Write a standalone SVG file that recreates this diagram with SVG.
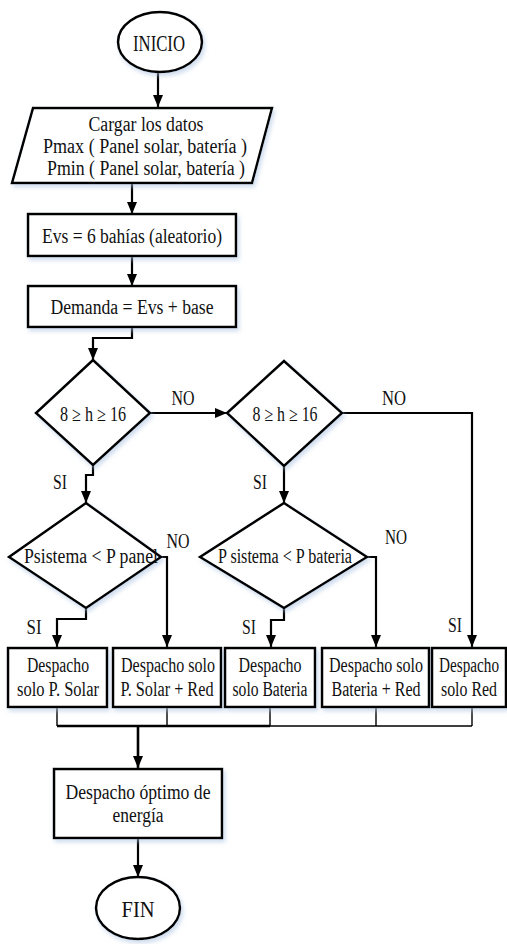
<svg xmlns="http://www.w3.org/2000/svg" width="507" height="944" viewBox="0 0 507 944">
<style>
.shape{fill:#fff;stroke:#000;stroke-width:2.5;filter:url(#sh)}
.t{font-family:"Liberation Serif","Times New Roman",serif;font-size:20px;fill:#111;text-anchor:middle}
.big{font-size:23px}
.c{fill:none;stroke:#000;stroke-width:2.2}
.thin{fill:none;stroke:#000;stroke-width:1.4}
</style>
<defs>
<filter id="sh" x="-20%" y="-20%" width="140%" height="140%">
<feDropShadow dx="2" dy="3" stdDeviation="2" flood-color="#a9c0e0" flood-opacity="0.55"/>
</filter>
<marker id="ah" viewBox="0 0 12 10" refX="12" refY="5" markerWidth="12" markerHeight="10" markerUnits="userSpaceOnUse" orient="auto">
<path d="M0,0 L12,5 L0,10 z" fill="#000"/>
</marker>
</defs>
<rect width="507" height="944" fill="#fff"/>

<g id="connectors">
<path class="c" d="M158,72 V107" marker-end="url(#ah)"/>
<path class="c" d="M132,183 V214" marker-end="url(#ah)"/>
<path class="c" d="M132,256 V286" marker-end="url(#ah)"/>
<path class="c" d="M132,327 V338 H93 V360" marker-end="url(#ah)"/>
<path class="c" d="M150,413 H227" marker-end="url(#ah)"/>
<path class="c" d="M342,413 H472 V647" marker-end="url(#ah)"/>
<path class="c" d="M93,465 V475 H86 V503" marker-end="url(#ah)"/>
<path class="c" d="M284,466 V503" marker-end="url(#ah)"/>
<path class="c" d="M160,557 H167 V647" marker-end="url(#ah)"/>
<path class="c" d="M86,608 V619 H57 V647" marker-end="url(#ah)"/>
<path class="c" d="M367,557 H376 V647" marker-end="url(#ah)"/>
<path class="c" d="M284,608 V620 H271 V647" marker-end="url(#ah)"/>
<path class="thin" d="M57,707 V726 M167,707 V726 M270,707 V726 M376,707 V726 M472,707 V726 M270,726 H472"/>
<path class="c" d="M57,726 H270" style="stroke-width:2.6"/>
<path class="c" d="M138,726 V768" style="stroke-width:2.6" marker-end="url(#ah)"/>
<path class="c" d="M138,838 V877" marker-end="url(#ah)"/>
<text class="t" x="183" y="405" textLength="23" lengthAdjust="spacingAndGlyphs">NO</text>
<text class="t" x="394" y="405" textLength="24" lengthAdjust="spacingAndGlyphs">NO</text>
<text class="t" x="60" y="489" textLength="14" lengthAdjust="spacingAndGlyphs">SI</text>
<text class="t" x="260" y="489" textLength="14" lengthAdjust="spacingAndGlyphs">SI</text>
<text class="t" x="178" y="548" textLength="23" lengthAdjust="spacingAndGlyphs">NO</text>
<text class="t" x="396" y="544" textLength="22" lengthAdjust="spacingAndGlyphs">NO</text>
<text class="t" x="34" y="634" textLength="15" lengthAdjust="spacingAndGlyphs">SI</text>
<text class="t" x="249" y="634" textLength="14" lengthAdjust="spacingAndGlyphs">SI</text>
<text class="t" x="455" y="632" textLength="14" lengthAdjust="spacingAndGlyphs">SI</text>
</g>

<g id="inicio">
<ellipse class="shape" cx="160" cy="42" rx="42" ry="30"/>
<text class="t big" x="159" y="51" textLength="52" lengthAdjust="spacingAndGlyphs">INICIO</text>
</g>

<g id="cargar">
<polygon class="shape" points="33,108 272,108 252,183 12,183"/>
<text class="t" x="146" y="131" textLength="115" lengthAdjust="spacingAndGlyphs">Cargar los datos</text>
<text class="t" x="145" y="153" textLength="204" lengthAdjust="spacingAndGlyphs">Pmax  ( Panel solar, batería )</text>
<text class="t" x="146" y="175" textLength="198" lengthAdjust="spacingAndGlyphs">Pmin  ( Panel solar, batería )</text>
</g>

<g id="evs">
<rect class="shape" x="28" y="214" width="208" height="42"/>
<text class="t" x="132" y="243" textLength="180" lengthAdjust="spacingAndGlyphs">Evs = 6 bahías (aleatorio)</text>
</g>

<g id="demanda">
<rect class="shape" x="28" y="286" width="208" height="41"/>
<text class="t" x="132" y="314" textLength="163" lengthAdjust="spacingAndGlyphs">Demanda = Evs + base</text>
</g>

<g id="dec1">
<polygon class="shape" points="93,360 150,413 93,465 36,413"/>
<text class="t" x="93" y="421" textLength="66" lengthAdjust="spacingAndGlyphs">8 ≥ h ≥ 16</text>
</g>

<g id="dec2">
<polygon class="shape" points="284,361 342,413 284,466 227,413"/>
<text class="t" x="285" y="421" textLength="65" lengthAdjust="spacingAndGlyphs">8 ≥ h ≥ 16</text>
</g>

<g id="dec3">
<polygon class="shape" points="86,503 161,557 86,608 9,557"/>
<text class="t" x="91" y="563" textLength="134" lengthAdjust="spacingAndGlyphs">Psistema &lt; P panel</text>
</g>

<g id="dec4">
<polygon class="shape" points="284,503 367,557 284,608 200,557"/>
<text class="t" x="285" y="563" textLength="134" lengthAdjust="spacingAndGlyphs">P sistema &lt; P bateria</text>
</g>

<g id="box1">
<rect class="shape" x="8" y="648" width="99" height="59"/>
<text class="t" x="58" y="672" textLength="62" lengthAdjust="spacingAndGlyphs">Despacho</text>
<text class="t" x="58" y="696" textLength="82" lengthAdjust="spacingAndGlyphs">solo P. Solar</text>
</g>

<g id="box2">
<rect class="shape" x="113" y="648" width="108" height="59"/>
<text class="t" x="168" y="672" textLength="94" lengthAdjust="spacingAndGlyphs">Despacho solo</text>
<text class="t" x="167" y="696" textLength="93" lengthAdjust="spacingAndGlyphs">P. Solar + Red</text>
</g>

<g id="box3">
<rect class="shape" x="225" y="648" width="90" height="59"/>
<text class="t" x="270" y="672" textLength="63" lengthAdjust="spacingAndGlyphs">Despacho</text>
<text class="t" x="270" y="696" textLength="75" lengthAdjust="spacingAndGlyphs">solo Bateria</text>
</g>

<g id="box4">
<rect class="shape" x="322" y="648" width="107" height="59"/>
<text class="t" x="376" y="672" textLength="94" lengthAdjust="spacingAndGlyphs">Despacho solo</text>
<text class="t" x="376" y="696" textLength="89" lengthAdjust="spacingAndGlyphs">Bateria + Red</text>
</g>

<g id="box5">
<rect class="shape" x="432" y="648" width="74" height="59"/>
<text class="t" x="469" y="672" textLength="60" lengthAdjust="spacingAndGlyphs">Despacho</text>
<text class="t" x="469" y="696" textLength="56" lengthAdjust="spacingAndGlyphs">solo Red</text>
</g>

<g id="optimo">
<rect class="shape" x="54" y="769" width="168" height="69"/>
<text class="t" x="138" y="799" textLength="145" lengthAdjust="spacingAndGlyphs">Despacho óptimo de</text>
<text class="t" x="138" y="822" textLength="51" lengthAdjust="spacingAndGlyphs">energía</text>
</g>

<g id="fin">
<ellipse class="shape" cx="138" cy="908" rx="42" ry="31"/>
<text class="t big" x="138" y="917" textLength="33" lengthAdjust="spacingAndGlyphs">FIN</text>
</g>
</svg>
